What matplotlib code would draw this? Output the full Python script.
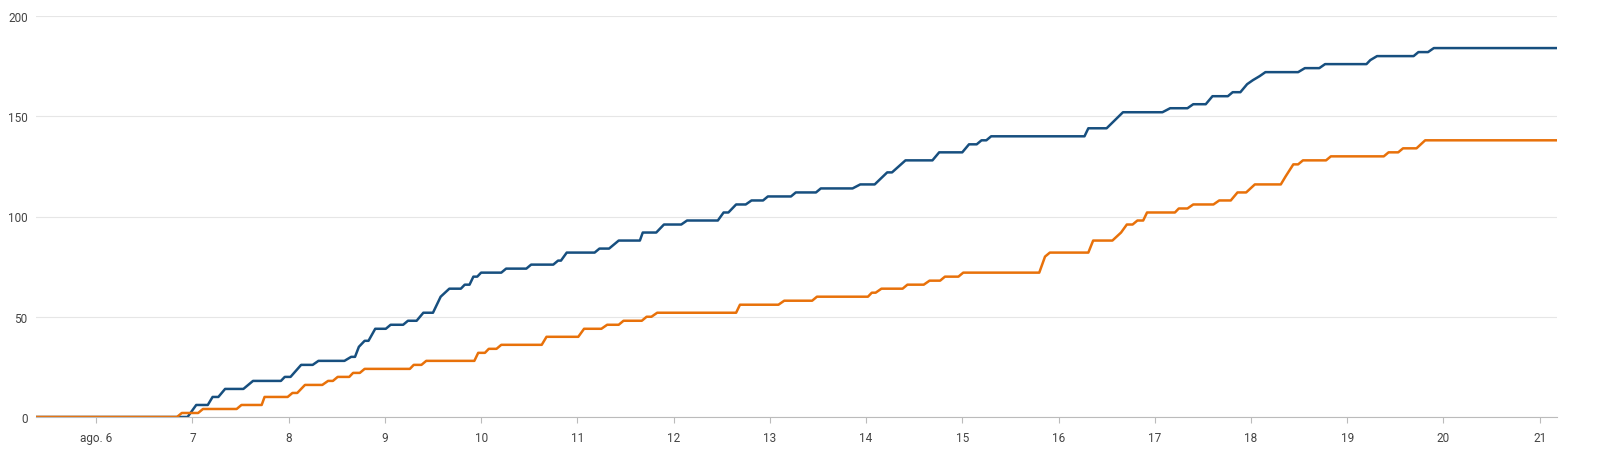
import matplotlib
matplotlib.use("Agg")
import matplotlib.pyplot as plt

plt.rcParams["font.family"] = ["Roboto", "DejaVu Sans"]

# cumulative counts, x in days of August
blue_days = [5.375, 6.95, 7.04, 7.16, 7.21, 7.27, 7.34, 7.53, 7.63, 7.92, 7.96, 8.02, 8.13, 8.25, 8.31,
             8.58, 8.65, 8.69, 8.73, 8.79, 8.83, 8.90, 9.01, 9.06, 9.19, 9.24, 9.33, 9.40, 9.50, 9.58,
             9.67, 9.79, 9.83, 9.88, 9.92, 9.96, 10.0, 10.21, 10.26, 10.47, 10.52, 10.75, 10.80, 10.83,
             10.89, 11.18, 11.23, 11.33, 11.43, 11.65, 11.68, 11.82, 11.90, 12.08, 12.14, 12.46, 12.52,
             12.57, 12.65, 12.75, 12.81, 12.93, 12.98, 13.22, 13.27, 13.48, 13.53, 13.86, 13.94, 14.09,
             14.22, 14.27, 14.41, 14.69, 14.76, 15.0, 15.07, 15.15, 15.20, 15.25, 15.30, 16.27, 16.31,
             16.50, 16.67, 17.08, 17.16, 17.34, 17.40, 17.53, 17.60, 17.76, 17.81, 17.89, 17.96, 18.02,
             18.09, 18.15, 18.49, 18.56, 18.71, 18.77, 19.20, 19.24, 19.31, 19.69, 19.74, 19.84, 19.90,
             21.2]
blue_vals = [0, 0, 6, 6, 10, 10, 14, 14, 18, 18, 20, 20, 26, 26, 28,
             28, 30, 30, 35, 38, 38, 44, 44, 46, 46, 48, 48, 52, 52, 60,
             64, 64, 66, 66, 70, 70, 72, 72, 74, 74, 76, 76, 78, 78,
             82, 82, 84, 84, 88, 88, 92, 92, 96, 96, 98, 98, 102,
             102, 106, 106, 108, 108, 110, 110, 112, 112, 114, 114, 116, 116,
             122, 122, 128, 128, 132, 132, 136, 136, 138, 138, 140, 140, 144,
             144, 152, 152, 154, 154, 156, 156, 160, 160, 162, 162, 166, 168,
             170, 172, 172, 174, 174, 176, 176, 178, 180, 180, 182, 182, 184,
             184]

orange_days = [5.375, 6.84, 6.89, 7.06, 7.11, 7.46, 7.51, 7.72, 7.75, 7.99, 8.04, 8.09, 8.17, 8.35,
               8.41, 8.46, 8.51, 8.63, 8.67, 8.74, 8.79, 9.26, 9.30, 9.38, 9.43, 9.93, 9.97, 10.04,
               10.08, 10.16, 10.21, 10.63, 10.68, 11.01, 11.07, 11.25, 11.31, 11.43, 11.48, 11.67,
               11.72, 11.77, 11.83, 12.65, 12.69, 13.09, 13.15, 13.44, 13.49, 14.02, 14.06, 14.10,
               14.16, 14.38, 14.43, 14.60, 14.66, 14.77, 14.82, 14.96, 15.01, 15.80, 15.86, 15.91,
               16.31, 16.36, 16.56, 16.65, 16.71, 16.77, 16.82, 16.88, 16.92, 17.21, 17.25, 17.34,
               17.40, 17.61, 17.67, 17.79, 17.86, 17.95, 18.04, 18.31, 18.36, 18.44, 18.49, 18.54,
               18.78, 18.83, 19.38, 19.43, 19.53, 19.58, 19.72, 19.81, 21.2]
orange_vals = [0, 0, 2, 2, 4, 4, 6, 6, 10, 10, 12, 12, 16, 16,
               18, 18, 20, 20, 22, 22, 24, 24, 26, 26, 28, 28, 32, 32,
               34, 34, 36, 36, 40, 40, 44, 44, 46, 46, 48, 48,
               50, 50, 52, 52, 56, 56, 58, 58, 60, 60, 62, 62,
               64, 64, 66, 66, 68, 68, 70, 70, 72, 72, 80, 82,
               82, 88, 88, 92, 96, 96, 98, 98, 102, 102, 104, 104,
               106, 106, 108, 108, 112, 112, 116, 116, 120, 126, 126, 128,
               128, 130, 130, 132, 132, 134, 134, 138, 138]

x_ticks = list(range(6, 22))
x_labels = ["ago. 6"] + [str(d) for d in range(7, 22)]
y_ticks = [0, 50, 100, 150, 200]

fig = plt.figure(figsize=(16.05, 4.6), dpi=100)
ax = fig.add_axes([36 / 1605, 42 / 460, 1521 / 1605, 401 / 460])
ax.plot(blue_days, blue_vals, color="#174f7f", lw=1.8)
ax.plot(orange_days, orange_vals, color="#e8710a", lw=1.8)

ax.set_xlim(5.375, 21.18)
ax.set_ylim(0, 200)
ax.set_xticks(x_ticks, x_labels)
ax.set_yticks(y_ticks)
ax.grid(axis="y", color="#e6e6e6", lw=0.8)
ax.set_axisbelow(True)
for s in ("top", "right", "left"):
    ax.spines[s].set_visible(False)
ax.spines["bottom"].set_color("#bbbbbb")
ax.tick_params(axis="y", length=0, pad=6, labelsize=8.5, labelcolor="#444444")
ax.tick_params(axis="x", length=4, color="#bbbbbb", pad=6, labelsize=8.5, labelcolor="#444444")

fig.savefig("out.png", dpi=100)
